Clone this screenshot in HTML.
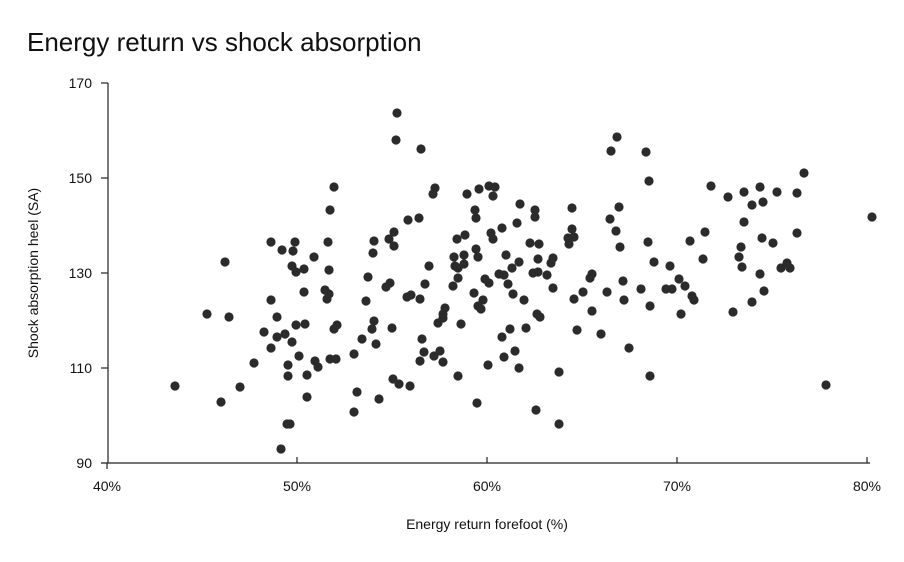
<!DOCTYPE html>
<html><head><meta charset="utf-8"><style>
body{margin:0;background:#fff;}
svg text{font-family:"Liberation Sans",Arial,sans-serif;fill:#111;}
</style></head><body>
<svg width="904" height="557" xmlns="http://www.w3.org/2000/svg">
<text x="27" y="51" font-size="26">Energy return vs shock absorption</text>
<g stroke="#222" stroke-width="1.2">
<line x1="108" y1="83" x2="108" y2="463"/>
<line x1="101" y1="463" x2="870" y2="463"/>
<line x1="101" y1="83" x2="108" y2="83"/>
<line x1="101" y1="178" x2="108" y2="178"/>
<line x1="101" y1="273" x2="108" y2="273"/>
<line x1="101" y1="368" x2="108" y2="368"/>
<line x1="107" y1="463" x2="107" y2="469"/>
<line x1="297" y1="457" x2="297" y2="463"/>
<line x1="487" y1="457" x2="487" y2="463"/>
<line x1="677" y1="457" x2="677" y2="463"/>
<line x1="867" y1="457" x2="867" y2="463"/>
</g>
<g font-size="14" text-anchor="end">
<text x="92" y="88">170</text><text x="92" y="183">150</text><text x="92" y="278">130</text><text x="92" y="373">110</text><text x="92" y="468">90</text>
</g>
<g font-size="14" text-anchor="middle">
<text x="107" y="491">40%</text><text x="297" y="491">50%</text><text x="487" y="491">60%</text><text x="677" y="491">70%</text><text x="867" y="491">80%</text>
<text x="487" y="529">Energy return forefoot (%)</text>
</g>
<text font-size="14" text-anchor="middle" transform="translate(38,273) rotate(-90)">Shock absorption heel (SA)</text>
<g fill="#2b2b2b">
<circle cx="397" cy="113" r="4.6"/><circle cx="396" cy="140" r="4.6"/><circle cx="334" cy="187" r="4.6"/><circle cx="330" cy="210" r="4.6"/><circle cx="408" cy="220" r="4.6"/><circle cx="394" cy="232" r="4.6"/><circle cx="389" cy="239" r="4.6"/><circle cx="394" cy="246" r="4.6"/><circle cx="374" cy="241" r="4.6"/><circle cx="373" cy="253" r="4.6"/><circle cx="271" cy="242" r="4.6"/><circle cx="282" cy="250" r="4.6"/><circle cx="295" cy="242" r="4.6"/><circle cx="293" cy="251" r="4.6"/><circle cx="314" cy="257" r="4.6"/><circle cx="328" cy="242" r="4.6"/><circle cx="225" cy="262" r="4.6"/><circle cx="292" cy="266" r="4.6"/><circle cx="296" cy="272" r="4.6"/><circle cx="304" cy="269" r="4.6"/><circle cx="329" cy="270" r="4.6"/><circle cx="368" cy="277" r="4.6"/><circle cx="386" cy="287" r="4.6"/><circle cx="390" cy="283" r="4.6"/><circle cx="304" cy="292" r="4.6"/><circle cx="325" cy="290" r="4.6"/><circle cx="329" cy="294" r="4.6"/><circle cx="327" cy="299" r="4.6"/><circle cx="407" cy="297" r="4.6"/><circle cx="366" cy="301" r="4.6"/><circle cx="271" cy="300" r="4.6"/><circle cx="207" cy="314" r="4.6"/><circle cx="229" cy="317" r="4.6"/><circle cx="277" cy="317" r="4.6"/><circle cx="374" cy="321" r="4.6"/><circle cx="372" cy="329" r="4.6"/><circle cx="392" cy="328" r="4.6"/><circle cx="305" cy="324" r="4.6"/><circle cx="296" cy="325" r="4.6"/><circle cx="334" cy="329" r="4.6"/><circle cx="337" cy="325" r="4.6"/><circle cx="264" cy="332" r="4.6"/><circle cx="277" cy="337" r="4.6"/><circle cx="285" cy="334" r="4.6"/><circle cx="292" cy="342" r="4.6"/><circle cx="271" cy="348" r="4.6"/><circle cx="362" cy="339" r="4.6"/><circle cx="376" cy="344" r="4.6"/><circle cx="354" cy="354" r="4.6"/><circle cx="299" cy="356" r="4.6"/><circle cx="254" cy="363" r="4.6"/><circle cx="288" cy="365" r="4.6"/><circle cx="315" cy="361" r="4.6"/><circle cx="318" cy="367" r="4.6"/><circle cx="330" cy="359" r="4.6"/><circle cx="336" cy="359" r="4.6"/><circle cx="288" cy="376" r="4.6"/><circle cx="307" cy="375" r="4.6"/><circle cx="393" cy="379" r="4.6"/><circle cx="399" cy="384" r="4.6"/><circle cx="410" cy="386" r="4.6"/><circle cx="175" cy="386" r="4.6"/><circle cx="240" cy="387" r="4.6"/><circle cx="221" cy="402" r="4.6"/><circle cx="307" cy="397" r="4.6"/><circle cx="357" cy="392" r="4.6"/><circle cx="379" cy="399" r="4.6"/><circle cx="354" cy="412" r="4.6"/><circle cx="287" cy="424" r="4.6"/><circle cx="290" cy="424" r="4.6"/><circle cx="281" cy="449" r="4.6"/>
<circle cx="421" cy="149" r="4.6"/><circle cx="435" cy="188" r="4.6"/><circle cx="433" cy="194" r="4.6"/><circle cx="467" cy="194" r="4.6"/><circle cx="479" cy="189" r="4.6"/><circle cx="489" cy="186" r="4.6"/><circle cx="495" cy="187" r="4.6"/><circle cx="493" cy="196" r="4.6"/><circle cx="475" cy="210" r="4.6"/><circle cx="476" cy="218" r="4.6"/><circle cx="520" cy="204" r="4.6"/><circle cx="535" cy="210" r="4.6"/><circle cx="535" cy="217" r="4.6"/><circle cx="572" cy="208" r="4.6"/><circle cx="419" cy="218" r="4.6"/><circle cx="502" cy="228" r="4.6"/><circle cx="517" cy="223" r="4.6"/><circle cx="491" cy="233" r="4.6"/><circle cx="493" cy="239" r="4.6"/><circle cx="465" cy="235" r="4.6"/><circle cx="457" cy="239" r="4.6"/><circle cx="572" cy="229" r="4.6"/><circle cx="568" cy="238" r="4.6"/><circle cx="574" cy="237" r="4.6"/><circle cx="569" cy="244" r="4.6"/><circle cx="530" cy="243" r="4.6"/><circle cx="539" cy="244" r="4.6"/><circle cx="476" cy="249" r="4.6"/><circle cx="478" cy="257" r="4.6"/><circle cx="454" cy="257" r="4.6"/><circle cx="464" cy="255" r="4.6"/><circle cx="506" cy="255" r="4.6"/><circle cx="455" cy="266" r="4.6"/><circle cx="458" cy="268" r="4.6"/><circle cx="464" cy="264" r="4.6"/><circle cx="429" cy="266" r="4.6"/><circle cx="538" cy="259" r="4.6"/><circle cx="553" cy="258" r="4.6"/><circle cx="551" cy="263" r="4.6"/><circle cx="519" cy="262" r="4.6"/><circle cx="512" cy="268" r="4.6"/><circle cx="499" cy="274" r="4.6"/><circle cx="504" cy="275" r="4.6"/><circle cx="533" cy="273" r="4.6"/><circle cx="538" cy="272" r="4.6"/><circle cx="547" cy="275" r="4.6"/><circle cx="592" cy="274" r="4.6"/><circle cx="590" cy="278" r="4.6"/><circle cx="458" cy="278" r="4.6"/><circle cx="485" cy="279" r="4.6"/><circle cx="489" cy="283" r="4.6"/><circle cx="508" cy="284" r="4.6"/><circle cx="425" cy="284" r="4.6"/><circle cx="453" cy="286" r="4.6"/><circle cx="553" cy="288" r="4.6"/><circle cx="583" cy="292" r="4.6"/><circle cx="411" cy="295" r="4.6"/><circle cx="420" cy="299" r="4.6"/><circle cx="513" cy="294" r="4.6"/><circle cx="474" cy="293" r="4.6"/><circle cx="483" cy="300" r="4.6"/><circle cx="524" cy="300" r="4.6"/><circle cx="574" cy="299" r="4.6"/><circle cx="478" cy="306" r="4.6"/><circle cx="481" cy="309" r="4.6"/><circle cx="592" cy="311" r="4.6"/><circle cx="445" cy="308" r="4.6"/><circle cx="443" cy="314" r="4.6"/><circle cx="443" cy="318" r="4.6"/><circle cx="438" cy="323" r="4.6"/><circle cx="461" cy="324" r="4.6"/><circle cx="537" cy="314" r="4.6"/><circle cx="540" cy="317" r="4.6"/><circle cx="510" cy="329" r="4.6"/><circle cx="526" cy="328" r="4.6"/><circle cx="577" cy="330" r="4.6"/><circle cx="502" cy="337" r="4.6"/><circle cx="422" cy="339" r="4.6"/><circle cx="424" cy="352" r="4.6"/><circle cx="420" cy="361" r="4.6"/><circle cx="434" cy="356" r="4.6"/><circle cx="440" cy="351" r="4.6"/><circle cx="443" cy="362" r="4.6"/><circle cx="515" cy="351" r="4.6"/><circle cx="504" cy="357" r="4.6"/><circle cx="488" cy="365" r="4.6"/><circle cx="519" cy="368" r="4.6"/><circle cx="559" cy="372" r="4.6"/><circle cx="458" cy="376" r="4.6"/><circle cx="477" cy="403" r="4.6"/><circle cx="536" cy="410" r="4.6"/><circle cx="559" cy="424" r="4.6"/>
<circle cx="617" cy="137" r="4.6"/><circle cx="611" cy="151" r="4.6"/><circle cx="646" cy="152" r="4.6"/><circle cx="649" cy="181" r="4.6"/><circle cx="711" cy="186" r="4.6"/><circle cx="728" cy="197" r="4.6"/><circle cx="744" cy="192" r="4.6"/><circle cx="760" cy="187" r="4.6"/><circle cx="777" cy="192" r="4.6"/><circle cx="797" cy="193" r="4.6"/><circle cx="804" cy="173" r="4.6"/><circle cx="752" cy="205" r="4.6"/><circle cx="763" cy="202" r="4.6"/><circle cx="872" cy="217" r="4.6"/><circle cx="619" cy="207" r="4.6"/><circle cx="610" cy="219" r="4.6"/><circle cx="616" cy="231" r="4.6"/><circle cx="620" cy="247" r="4.6"/><circle cx="648" cy="242" r="4.6"/><circle cx="744" cy="222" r="4.6"/><circle cx="705" cy="232" r="4.6"/><circle cx="690" cy="241" r="4.6"/><circle cx="762" cy="238" r="4.6"/><circle cx="773" cy="243" r="4.6"/><circle cx="797" cy="233" r="4.6"/><circle cx="741" cy="247" r="4.6"/><circle cx="739" cy="257" r="4.6"/><circle cx="703" cy="259" r="4.6"/><circle cx="742" cy="267" r="4.6"/><circle cx="654" cy="262" r="4.6"/><circle cx="670" cy="266" r="4.6"/><circle cx="623" cy="281" r="4.6"/><circle cx="607" cy="292" r="4.6"/><circle cx="641" cy="289" r="4.6"/><circle cx="679" cy="279" r="4.6"/><circle cx="685" cy="286" r="4.6"/><circle cx="666" cy="289" r="4.6"/><circle cx="672" cy="289" r="4.6"/><circle cx="692" cy="296" r="4.6"/><circle cx="694" cy="300" r="4.6"/><circle cx="624" cy="300" r="4.6"/><circle cx="650" cy="306" r="4.6"/><circle cx="681" cy="314" r="4.6"/><circle cx="733" cy="312" r="4.6"/><circle cx="752" cy="302" r="4.6"/><circle cx="760" cy="274" r="4.6"/><circle cx="764" cy="291" r="4.6"/><circle cx="781" cy="268" r="4.6"/><circle cx="787" cy="263" r="4.6"/><circle cx="790" cy="268" r="4.6"/><circle cx="601" cy="334" r="4.6"/><circle cx="629" cy="348" r="4.6"/><circle cx="650" cy="376" r="4.6"/><circle cx="826" cy="385" r="4.6"/>
</g>
</svg>
</body></html>
